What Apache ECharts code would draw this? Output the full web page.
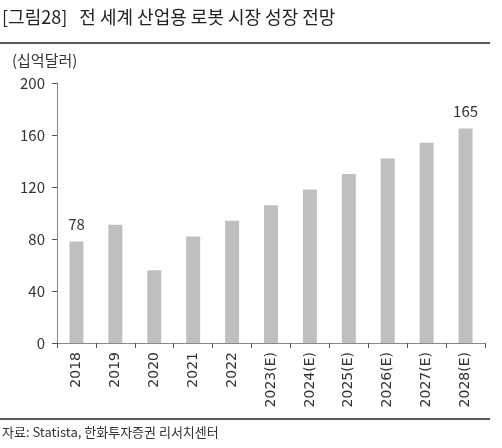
<!DOCTYPE html>
<html>
<head>
<meta charset="utf-8">
<script src="https://cdn.jsdelivr.net/npm/echarts@6/dist/echarts.min.js"></script>
<style>
  html, body { margin: 0; padding: 0; background: #fff; }
  #chart { width: 502px; height: 448px; }
</style>
</head>
<body>
<div id="chart"></div>
<script>
// 연도 (E = 전망치)
const years = ['2018', '2019', '2020', '2021', '2022', '2023(E)', '2024(E)', '2025(E)', '2026(E)', '2027(E)', '2028(E)'];
// 시장 규모 (십억달러)
const marketSize = [78, 91, 56, 82, 94, 106, 118, 130, 142, 154, 165];
// 값 라벨을 보여줄 막대
const labelled = ['2018', '2028(E)'];
const yTicks = [0, 40, 80, 120, 160, 200];

const font = '"Noto Sans CJK KR", "Noto Sans", sans-serif';
const numFont = '"DejaVu Sans", sans-serif';
const chart = echarts.init(document.getElementById('chart'));

const option = {
  animation: false,
  backgroundColor: '#fff',
  textStyle: { fontFamily: font },
  grid: { left: 57, right: 17, top: 83, bottom: 105 },
  graphic: [
    { type: 'text', left: 2, top: 8,
      style: { text: '[그림28]   전 세계 산업용 로봇 시장 성장 전망', fontSize: 18, fill: '#222', fontFamily: font } },
    { type: 'line', shape: { x1: 0, y1: 43, x2: 490, y2: 43 }, style: { stroke: '#222', lineWidth: 1.5 } },
    { type: 'text', left: 12, top: 53,
      style: { text: '(십억달러)', fontSize: 15, fill: '#333', fontFamily: font } },
    { type: 'line', shape: { x1: 0, y1: 419, x2: 490, y2: 419 }, style: { stroke: '#222', lineWidth: 1.5 } },
    { type: 'text', left: 2, top: 426,
      style: { text: '자료: Statista, 한화투자증권 리서치센터', fontSize: 13, fill: '#333', fontFamily: font } }
  ],
  xAxis: {
    type: 'category',
    data: years,
    axisLine: { lineStyle: { color: '#888' } },
    axisTick: { show: true, length: 5, lineStyle: { color: '#555' } },
    axisLabel: { rotate: 90, color: '#333', fontSize: 14, margin: 9, fontFamily: numFont }
  },
  yAxis: {
    type: 'value',
    min: yTicks[0],
    max: yTicks[yTicks.length - 1],
    interval: 40,
    splitLine: { show: false },
    axisLine: { show: true, lineStyle: { color: '#888' } },
    axisTick: { show: true, length: 5, lineStyle: { color: '#555' } },
    axisLabel: { color: '#333', fontSize: 15, margin: 12, fontFamily: font }
  },
  series: [{
    type: 'bar',
    data: marketSize.map((v, i) => ({
      value: v,
      label: { show: labelled.includes(years[i]) }
    })),
    barWidth: 14,
    itemStyle: { color: '#bfbfbf' },
    label: { position: 'top', distance: 10, color: '#333', fontSize: 15, fontFamily: font }
  }]
};

chart.setOption(option);
</script>
</body>
</html>
